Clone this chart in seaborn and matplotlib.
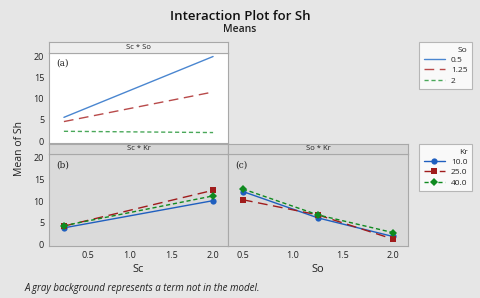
import pandas as pd
import numpy as np
import matplotlib.pyplot as plt
import seaborn as sns
from matplotlib.lines import Line2D

sns.set_theme(style='white')
plt.rcParams['font.family'] = ['Open Sans', 'DejaVu Sans']

# data
sc_levels = [0.22, 2.0]
so_levels = [0.5, 1.25, 2.0]
so_names = ['0.5', '1.25', '2']
kr_names = ['10.0', '25.0', '40.0']

# (a) Sc * So
sh_sc_so = {'0.5': [5.6, 20.0], '1.25': [4.6, 11.6], '2': [2.3, 2.0]}
# (b) Sc * Kr
sh_sc_kr = {'10.0': [3.8, 10.1], '25.0': [4.2, 12.5], '40.0': [4.3, 11.2]}
# (c) So * Kr
sh_so_kr = {'10.0': [12.2, 6.1, 1.8], '25.0': [10.3, 6.8, 1.2], '40.0': [12.8, 6.8, 2.7]}

df_a = pd.DataFrame([(x, y, k) for k, v in sh_sc_so.items() for x, y in zip(sc_levels, v)],
                    columns=['Sc', 'Sh', 'So'])
df_b = pd.DataFrame([(x, y, k) for k, v in sh_sc_kr.items() for x, y in zip(sc_levels, v)],
                    columns=['Sc', 'Sh', 'Kr'])
df_c = pd.DataFrame([(x, y, k) for k, v in sh_so_kr.items() for x, y in zip(so_levels, v)],
                    columns=['So', 'Sh', 'Kr'])

light_pal = ['#4a86d0', '#b84a4a', '#4aa85a']
dark_pal = ['#1f5fbf', '#a01c1c', '#0f8a1f']
dash_list = ['', (7, 4), (3, 2)]
marker_list = ['o', 's', 'D']

W, H = 480, 298
fig = plt.figure(figsize=(4.8, 2.98), dpi=100)
fig.patch.set_facecolor('#e6e6e6')


def px_axes(x0, y0, x1, y1):
    return fig.add_axes([x0 / W, 1 - y1 / H, (x1 - x0) / W, (y1 - y0) / H])


def style_ax(ax, bg, tag):
    ax.set_facecolor(bg)
    for s in ax.spines.values():
        s.set_color('#a8a8a8')
        s.set_linewidth(0.8)
    ax.set_ylim(-0.4, 20.9)
    ax.set_xlabel('')
    ax.set_ylabel('')
    ax.tick_params(labelsize=6.5, length=2, width=0.6, color='#808080', pad=1.5,
                   labelcolor='#222222')
    ax.text(0.04, 0.93, tag, transform=ax.transAxes, fontsize=6.5, va='top',
            family='DejaVu Serif', color='#222222')


def strip(x0, x1, y0, y1, text, bg):
    s = px_axes(x0, y0, x1, y1)
    s.set_facecolor(bg)
    s.set_xticks([])
    s.set_yticks([])
    for sp in s.spines.values():
        sp.set_color('#a8a8a8')
        sp.set_linewidth(0.8)
    s.text(0.5, 0.5, text, ha='center', va='center', fontsize=5.5, color='#222222')


# panel (a)
ax_a = px_axes(49, 52.7, 228, 142.7)
sns.lineplot(data=df_a, x='Sc', y='Sh', hue='So', style='So', hue_order=so_names,
             style_order=so_names, palette=light_pal, dashes=dash_list, lw=1,
             legend=False, ax=ax_a)
style_ax(ax_a, 'white', '(a)')
ax_a.set_xlim(0.042, 2.178)
ax_a.set_xticks([])
ax_a.set_yticks([0, 5, 10, 15, 20])
strip(49, 228, 42, 52.7, 'Sc * So', '#eeeeee')

# panel (b)
ax_b = px_axes(49, 154, 228, 246)
sns.lineplot(data=df_b, x='Sc', y='Sh', hue='Kr', style='Kr', hue_order=kr_names,
             style_order=kr_names, palette=dark_pal, dashes=dash_list, markers=marker_list,
             markersize=4.5, markeredgewidth=0, lw=1, legend=False, ax=ax_b)
style_ax(ax_b, '#dadada', '(b)')
ax_b.set_xlim(0.042, 2.178)
ax_b.set_xticks([0.5, 1.0, 1.5, 2.0])
ax_b.set_yticks([0, 5, 10, 15, 20])
strip(49, 228, 144, 154, 'Sc * Kr', '#d6d6d6')

# panel (c)
ax_c = px_axes(228, 154, 408, 246)
sns.lineplot(data=df_c, x='So', y='Sh', hue='Kr', style='Kr', hue_order=kr_names,
             style_order=kr_names, palette=dark_pal, dashes=dash_list, markers=marker_list,
             markersize=4.5, markeredgewidth=0, lw=1, legend=False, ax=ax_c)
style_ax(ax_c, '#dadada', '(c)')
ax_c.set_xlim(0.35, 2.15)
ax_c.set_xticks([0.5, 1.0, 1.5, 2.0])
ax_c.set_yticks([])
strip(228, 408, 144, 154, 'So * Kr', '#d6d6d6')

# legends
h_so = [Line2D([], [], color=c, lw=1, ls='-' if not d else '--', dashes=d if d else (None, None))
        for c, d in zip(light_pal, dash_list)]
h_kr = [Line2D([], [], color=c, lw=1, ls='-' if not d else '--', dashes=d if d else (None, None),
               marker=m, markersize=4.5, markeredgewidth=0)
        for c, d, m in zip(dark_pal, dash_list, marker_list)]
for handles, names, title, y_top in [(h_so, so_names, 'So', 42), (h_kr, kr_names, 'Kr', 144)]:
    leg = fig.legend(handles, names, title=title, loc='upper left',
                     bbox_to_anchor=(419 / W, 1 - y_top / H), fontsize=6, title_fontsize=6,
                     frameon=True, fancybox=False, edgecolor='#a8a8a8', facecolor='white',
                     handlelength=2.6, handletextpad=0.7, borderpad=0.55, labelspacing=0.3,
                     alignment='right', borderaxespad=0)
    leg.get_frame().set_linewidth(0.8)

# titles and labels
fig.text(0.5, 1 - 16 / H, 'Interaction Plot for Sh', ha='center', va='center',
         fontsize=9.5, fontweight='semibold', color='#111111')
fig.text(0.5, 1 - 29 / H, 'Means', ha='center', va='center', fontsize=7.5,
         fontweight='semibold', color='#222222')
fig.text(20 / W, 1 - 149 / H, 'Mean of Sh', rotation=90, ha='center', va='center',
         fontsize=7.5, color='#222222')
fig.text(138.5 / W, 1 - 270 / H, 'Sc', ha='center', va='center', fontsize=8, color='#222222')
fig.text(318 / W, 1 - 270 / H, 'So', ha='center', va='center', fontsize=8, color='#222222')
fig.text(25 / W, 1 - 288 / H, 'A gray background represents a term not in the model.',
         ha='left', va='center', fontsize=7, style='italic', color='#222222')

fig.savefig('out.png', dpi=100, facecolor=fig.get_facecolor())
